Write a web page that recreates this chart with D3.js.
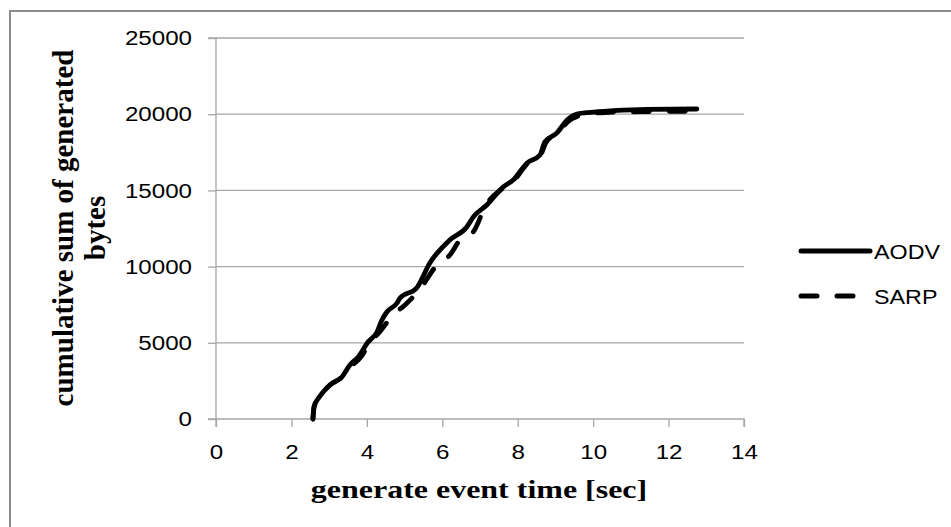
<!DOCTYPE html>
<html><head><meta charset="utf-8">
<script src="https://cdn.jsdelivr.net/npm/d3@7/dist/d3.min.js"></script>
<style>body{margin:0;background:#fff}svg{display:block}</style>
</head><body>
<svg id="c" width="951" height="527"></svg>
<script>
const xTicks = [0, 2, 4, 6, 8, 10, 12, 14];
const yTicks = [0, 5000, 10000, 15000, 20000, 25000];
const seriesNames = ["AODV", "SARP"];
const aodvX = [2.57, 2.6, 2.74, 3.02, 3.34, 3.55, 3.77, 4.03, 4.27, 4.4, 4.53, 4.8, 4.88, 5.32, 5.67, 6.2, 6.65, 6.82, 7.18, 7.61, 7.88, 8.25, 8.59, 8.72, 9.04, 9.31, 9.57, 9.92, 10.53, 11.43, 12.75];
const aodvY = [0, 800, 1440, 2230, 2760, 3540, 4070, 5050, 5710, 6500, 7020, 7610, 7940, 8600, 10240, 11750, 12600, 13250, 14040, 15220, 15680, 16800, 17320, 18180, 18770, 19620, 20010, 20120, 20230, 20320, 20340];
const sarpX = [2.57, 2.6, 2.74, 3.02, 3.34, 3.6, 3.82, 4.08, 4.35, 4.69, 5.01, 5.4, 5.86, 6.2, 6.47, 6.82, 7.15, 7.61, 7.9, 8.25, 8.6, 8.75, 9.05, 9.35, 9.65, 10.0, 10.5, 11.4, 12.75];
const sarpY = [0, 800, 1440, 2230, 2760, 3500, 4000, 5000, 5750, 6820, 7480, 8500, 10100, 10760, 11750, 12270, 14000, 15150, 15650, 16750, 17300, 18150, 18750, 19550, 19920, 20060, 20130, 20170, 20200];

const svg = d3.select("#c");
// outer frame
svg.append("rect").attr("x", 10).attr("y", 11).attr("width", 1000).attr("height", 1000)
  .attr("fill", "none").attr("stroke", "#8c8c8c").attr("stroke-width", 2);

const x = d3.scaleLinear().domain([0, 14]).range([216, 744]);
const y = d3.scaleLinear().domain([0, 25000]).range([419, 38]);

// gridlines
svg.append("g").selectAll("line").data(yTicks.filter(d => d > 0)).join("line")
  .attr("x1", x(0)).attr("x2", x(14)).attr("y1", d => y(d)).attr("y2", d => y(d))
  .attr("stroke", "#a6a6a6").attr("stroke-width", 1.3);

const tickFont = "'Liberation Sans', Arial, sans-serif";
const yAxis = svg.append("g").attr("transform", `translate(${x(0)},0)`)
  .call(d3.axisLeft(y).tickValues(yTicks).tickSize(8).tickPadding(16).tickFormat(d3.format("d")));
const xAxis = svg.append("g").attr("transform", `translate(0,${y(0)})`)
  .call(d3.axisBottom(x).tickValues(xTicks).tickSize(8).tickPadding(17).tickFormat(d3.format("d")));
[yAxis, xAxis].forEach(a => {
  a.select(".domain").attr("stroke", "#a6a6a6").attr("stroke-width", 1.3);
  a.selectAll(".tick line").attr("stroke", "#a6a6a6").attr("stroke-width", 1.3);
  a.selectAll(".tick text").attr("fill", "#000").style("font-family", tickFont).style("font-size", "21px");
});
yAxis.selectAll(".tick text").attr("x", 0).attr("transform", "translate(-24,0) scale(1.15,1)");
xAxis.selectAll(".tick text").attr("transform", "scale(1.15,1)");
yAxis.select(".domain").attr("d", `M-8,${y(25000)}H0V${y(0)}H-8`);
xAxis.select(".domain").attr("d", `M${x(0)},8V0H${x(14)}V8`);

const line = d3.line().x(d => x(d[0])).y(d => y(d[1])).curve(d3.curveMonotoneX);
const aodv = aodvX.map((v, i) => [v, aodvY[i]]);
const sarp = sarpX.map((v, i) => [v, sarpY[i]]);
svg.append("path").datum(aodv).attr("d", line).attr("fill", "none").attr("stroke", "#000")
  .attr("stroke-width", 4.8).attr("stroke-linecap", "round").attr("stroke-linejoin", "round");
svg.append("path").datum(sarp).attr("d", line).attr("fill", "none").attr("stroke", "#000")
  .attr("stroke-width", 4.8).attr("stroke-linecap", "round").attr("stroke-dasharray", "16,20");

// legend
const leg = svg.append("g");
const legY = [251, 296];
seriesNames.forEach((n, i) => {
  leg.append("line").attr("x1", 801).attr("x2", 870).attr("y1", legY[i]).attr("y2", legY[i])
    .attr("stroke", "#000").attr("stroke-width", 5).attr("stroke-linecap", "round")
    .attr("stroke-dasharray", i === 1 ? "16,20" : null);
  leg.append("text").attr("transform", `translate(874,${legY[i] + 8}) scale(1.11,1)`).text(n)
    .style("font-family", tickFont).style("font-size", "21px");
});

// axis titles
svg.append("text").attr("transform", "translate(479,498) scale(1.23,1)").attr("text-anchor", "middle")
  .style("font-family", "'Liberation Serif', 'Times New Roman', serif").style("font-weight", "bold").style("font-size", "26px")
  .text("generate event time [sec]");
const yt = svg.append("text").attr("transform", "translate(73,228) rotate(-90)").attr("text-anchor", "middle")
  .style("font-family", "'Liberation Serif', 'Times New Roman', serif").style("font-weight", "bold").style("font-size", "29px");
yt.append("tspan").attr("x", 0).attr("y", 0).text("cumulative sum of generated");
yt.append("tspan").attr("x", 0).attr("y", 32).text("bytes");
</script>
</body></html>
